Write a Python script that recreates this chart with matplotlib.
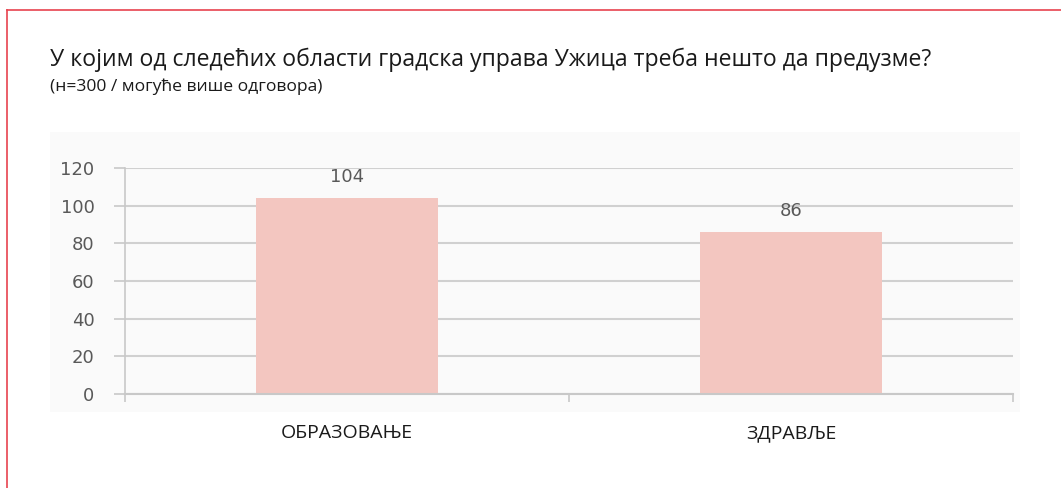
import matplotlib.pyplot as plt
from matplotlib.patches import Rectangle
from matplotlib.lines import Line2D

# podaci
categories = ["ОБРАЗОВАЊЕ", "ЗДРАВЉЕ"]
values = [104, 86]
yticks = [0, 20, 40, 60, 80, 100, 120]

title = "У којим од следећих области градска управа Ужица треба нешто да предузме?"
subtitle = "(н=300 / могуће више одговора)"

fig = plt.figure(figsize=(10.61, 4.88), dpi=100)
W, H = 1061, 488

# crveni okvir (gore i levo)
fig.add_artist(Line2D([7 / W, 1.0], [1 - 10 / H, 1 - 10 / H], color="#e8434f", lw=1.2))
fig.add_artist(Line2D([7 / W, 7 / W], [0, 1 - 10 / H], color="#e8434f", lw=1.2))

# svetla pozadina grafikona
fig.add_artist(Rectangle((50 / W, 1 - 412 / H), 970 / W, 280 / H, facecolor="#fafafa",
                         edgecolor="none", zorder=0))

fig.text(50 / W, 1 - 60 / H, title, fontsize=16.6, family="Open Sans", color="#1a1a1a", va="center")
fig.text(50 / W, 1 - 87 / H, subtitle, fontsize=12.6, family="Open Sans", color="#1a1a1a", va="center")

ax = fig.add_axes([125 / W, 1 - 394 / H, (1013 - 125) / W, (394 - 168) / H])
ax.set_facecolor("none")
x = range(len(categories))
ax.bar(x, values, width=0.41, color="#f3c6c0", zorder=2)
for i, v in enumerate(values):
    ax.text(i, v + 6.5, str(v), ha="center", va="bottom", fontsize=13, color="#595959")

ax.set_xlim(-0.5, 1.5)
ax.set_ylim(0, 120)
ax.set_yticks(yticks)
ax.set_yticklabels([str(t) for t in yticks], fontsize=13, color="#595959")
ax.yaxis.grid(True, color="#d0d0d0", lw=1.5, zorder=0)
ax.tick_params(axis="y", length=8, color="#c8c8c8", width=1.2, pad=14)
ax.set_xticks([-0.5, 0.5, 1.5])
ax.set_xticklabels([])
ax.tick_params(axis="x", length=6, color="#c8c8c8", width=1.2, direction="out")
for s in ["top", "right"]:
    ax.spines[s].set_visible(False)
ax.spines["left"].set_color("#c8c8c8")
ax.spines["left"].set_linewidth(1.2)
ax.spines["bottom"].set_color("#c8c8c8")
ax.spines["bottom"].set_linewidth(1.5)

for i, c in enumerate(categories):
    ax.annotate(c, (i, 0), xytext=(0, -28), textcoords="offset points", ha="center",
                va="center", fontsize=14, family="Open Sans", color="#1a1a1a",
                annotation_clip=False)

fig.savefig("out.png", dpi=100, facecolor="white")
